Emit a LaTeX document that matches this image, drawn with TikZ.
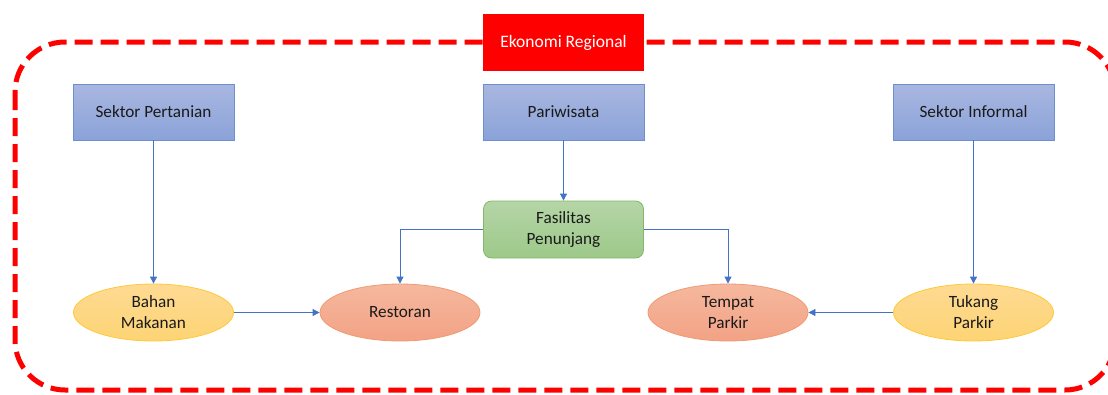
\documentclass[tikz,border=0pt]{standalone}
\usepackage{fontspec}
\setmainfont{Carlito}
\usetikzlibrary{arrows.meta,shapes.geometric}
\definecolor{boxtop}{HTML}{A9B7E0}
\definecolor{boxbot}{HTML}{8BA3D9}
\definecolor{boxline}{HTML}{6E8FCF}
\definecolor{grtop}{HTML}{B5D5A6}
\definecolor{grbot}{HTML}{9DC98A}
\definecolor{grline}{HTML}{82B868}
\definecolor{yetop}{HTML}{FEDA93}
\definecolor{yebot}{HTML}{FDD474}
\definecolor{yeline}{HTML}{FFC935}
\definecolor{satop}{HTML}{F5B89E}
\definecolor{sabot}{HTML}{F3A285}
\definecolor{saline}{HTML}{EE9A72}
\definecolor{arr}{HTML}{4472C4}
\definecolor{txt}{HTML}{1A1A1A}
\begin{document}
\begin{tikzpicture}[x=1pt,y=-1pt,
  lbl/.style={font=\fontsize{17.2}{21}\selectfont, text=txt, align=center},
  bluebox/.style={lbl, draw=boxline, line width=0.8pt, top color=boxtop, bottom color=boxbot, minimum width=161pt, minimum height=56pt, inner sep=0pt},
  greenbox/.style={lbl, draw=grline, line width=0.8pt, top color=grtop, bottom color=grbot, minimum width=160pt, minimum height=57pt, inner sep=0pt, rounded corners=8pt},
  yellowell/.style={lbl, ellipse, draw=yeline, line width=0.8pt, top color=yetop, bottom color=yebot, minimum width=160pt, minimum height=57pt, inner sep=0pt},
  salmonell/.style={lbl, ellipse, draw=saline, line width=0.8pt, top color=satop, bottom color=sabot, minimum width=160pt, minimum height=57pt, inner sep=0pt},
  conn/.style={draw=arr, line width=0.8pt, -{Triangle[width=7pt,length=7pt]}}
]
\useasboundingbox (0,0) rectangle (1108,394);
\draw[red, line width=5pt, dash pattern=on 18pt off 8pt, rounded corners=50pt] (15,42) rectangle (1115,390);

\node[fill=red, minimum width=161pt, minimum height=57pt, inner sep=0pt, font=\fontsize{17.5}{21}\selectfont, text=white] (eko) at (563.5,42.5) {Ekonomi Regional};

\node[bluebox] (pert) at (153.5,112) {Sektor Pertanian};
\node[bluebox] (pari) at (563.5,112) {Pariwisata};
\node[bluebox] (info) at (973.5,112) {Sektor Informal};

\node[greenbox] (fas) at (563.5,229.5) {Fasilitas\\Penunjang};

\node[yellowell] (bahan) at (153.5,312.5) {Bahan\\Makanan};
\node[salmonell] (resto) at (400,312.5) {Restoran};
\node[salmonell] (tempat) at (728,312.5) {Tempat\\Parkir};
\node[yellowell] (tukang) at (973.5,312.5) {Tukang\\Parkir};

\draw[conn] (pert.south) -- (bahan.north);
\draw[conn] (bahan.east) -- (resto.west);
\draw[conn] (pari.south) -- (fas.north);
\draw[conn] (fas.west) -| (resto.north);
\draw[conn] (fas.east) -| (tempat.north);
\draw[conn] (info.south) -- (tukang.north);
\draw[conn] (tukang.west) -- (tempat.east);
\end{tikzpicture}
\end{document}
